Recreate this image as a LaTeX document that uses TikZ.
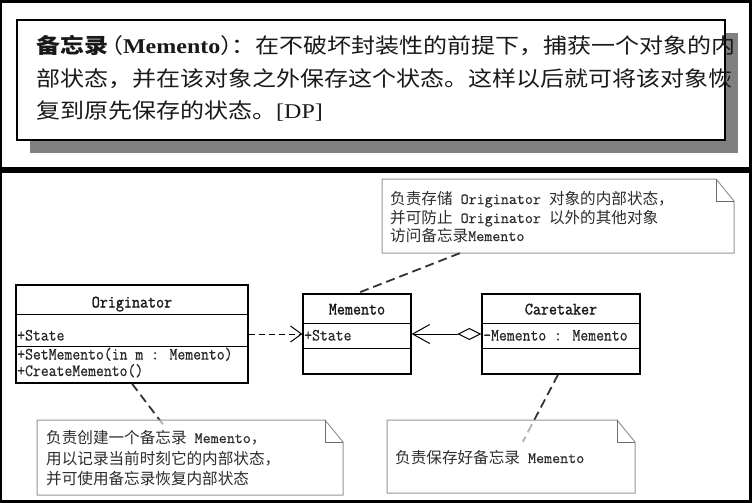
\documentclass[tikz,border=0pt]{standalone}
\usepackage{graphicx}
\usepackage{fontspec}
\setmainfont{Liberation Serif}
\newfontfamily\cjk{Noto Sans CJK SC}
\newfontfamily\namemono{Latin Modern Mono}[FakeBold=1.3]
\newfontfamily\attrmono{Latin Modern Mono}[FakeBold=0.5]
\usetikzlibrary{arrows.meta,calc}
\definecolor{shadowgray}{RGB}{128,128,128}
\definecolor{notegray}{RGB}{150,150,150}
\definecolor{notefold}{RGB}{110,110,110}
\definecolor{notetext}{RGB}{45,45,45}
\newcommand\tall[1]{\scalebox{1}[1.12]{#1}}
\newcommand\wide[1]{\scalebox{1.143}[1]{#1}}
\newcommand\lat[1]{{\attrmono #1}}
\tikzset{
  classbox/.style={draw=black, line width=1.3pt, fill=white, inner sep=0pt},
  cname/.style={font=\namemono\fontsize{15.6}{17}\selectfont, inner sep=0pt, anchor=base, text=black!90},
  attr/.style={font=\attrmono\fontsize{15.3}{17}\selectfont, inner sep=0pt, anchor=base west, text=black!85},
  notearea/.style={inner sep=0pt},
  notetxt/.style={font=\cjk\fontsize{15.6}{18}\selectfont, inner sep=0pt, anchor=base west, text=notetext},
  notelink/.style={draw=black!80, line width=1.8pt, dash pattern=on 9pt off 5pt},
  deftxt/.style={font=\cjk\fontsize{21}{23}\selectfont, inner sep=0pt, anchor=base west, text=black!90},
  deparrow/.style={line width=1pt, dash pattern=on 6pt off 4pt, -{Straight Barb[length=11pt,width=16pt]}},
  aggarrow/.style={line width=1pt, {Diamond[length=24pt,width=12pt,fill=white]}-{Straight Barb[length=17pt,width=19pt]}},
}
\newcommand\umlnote[4]{%
  \path[fill=white, fill opacity=0.62, draw=notegray, line width=1pt]
    (#1,#2) -- ({#3-18},#2) -- (#3,{#2+22}) -- (#3,#4) -- (#1,#4) -- cycle;
  \draw[notefold, line width=1pt] ({#3-18},#2) -- ({#3-18},{#2+22}) -- (#3,{#2+22});
}
\begin{document}
\begin{tikzpicture}[x=1pt,y=-1pt]
\useasboundingbox (0,0) rectangle (752,503);
% frame
\fill[black] (0,0) rectangle (752,503);
\fill[white] (2,3) rectangle (749,167);
\fill[white] (2,173) rectangle (749,500);
% definition box
\fill[shadowgray] (30,33) rectangle (738,153);
\node[draw=black, line width=1.3pt, fill=white, inner sep=0pt, minimum width=708pt, minimum height=120pt] (defbox) at (371,80) {};
\node[deftxt] (d1) at (36,54) {\wide{{\bfseries 备忘录}\hspace{4pt}\makebox[9pt][r]{（}{\rmfamily\bfseries Memento}\makebox[10pt][l]{）}：在不破坏封装性的前提下，捕获一个对象的内}};
\node[deftxt] (d2) at (36,86) {\wide{部状态，并在该对象之外保存这个状态。这样以后就可将该对象恢}};
\node[deftxt] (d3) at (36,118) {\wide{复到原先保存的状态。{\rmfamily [DP]}}};
% classes
\node[classbox, minimum width=232pt, minimum height=98pt] (orig) at (132,334) {};
\draw[line width=1.3pt] (orig.north west) ++(0,30) -- ++(232,0);
\draw[line width=1.3pt] (orig.north west) ++(0,62) -- ++(232,0);
\node[cname] (orign) at (132,307.5) {\tall{Originator}};
\node[attr] (origa) at (17,340.5) {\tall{+State}};
\node[attr] (origo1) at (17,359.5) {\tall{+SetMemento(in m : Memento)}};
\node[attr] (origo2) at (17,376) {\tall{+CreateMemento()}};

\node[classbox, minimum width=108pt, minimum height=80pt] (mem) at (357,334) {};
\draw[line width=1.3pt] (mem.north west) ++(0,30) -- ++(108,0);
\draw[line width=1.3pt] (mem.north west) ++(0,55) -- ++(108,0);
\node[cname] (memn) at (357,314.5) {\tall{Memento}};
\node[attr] (mema) at (304,340.5) {\tall{+State}};

\node[classbox, minimum width=158pt, minimum height=80pt] (care) at (561,334) {};
\draw[line width=1.3pt] (care.north west) ++(0,30) -- ++(158,0);
\draw[line width=1.3pt] (care.north west) ++(0,55) -- ++(158,0);
\node[cname] (caren) at (561,314.5) {\tall{Caretaker}};
\node[attr] (carea) at (483,340.5) {\tall{-Memento : Memento}};

% relations
\draw[deparrow] (orig.east) -- (mem.west);
\draw[aggarrow] (care.west) -- (mem.east);

% note areas
\node[notearea, minimum width=352pt, minimum height=74pt] (note1) at (558,216) {};
\node[notearea, minimum width=306pt, minimum height=75pt] (note2) at (190,457.5) {};
\node[notearea, minimum width=248pt, minimum height=73pt] (note3) at (511,456.5) {};
\coordinate (n1start) at ($(note1.south west)+(78,0)$);
\coordinate (n2end) at ($(note2.north west)+(128,7)$);
\coordinate (n3end) at ($(note3.north west)+(136,22)$);
\coordinate (c3start) at ($(care.south)+(-3,0)$);

\draw[notelink] (orig.south) -- (n2end);
\draw[notelink] (c3start) -- (n3end);

\umlnote{382}{179}{734}{253}
\umlnote{37}{420}{343}{495}
\umlnote{387}{420}{635}{493}

\draw[notelink] (n1start) -- (mem.north);

% note texts
\node[notetxt] (t11) at (390,204) {负责存储\lat{\ Originator\ }对象的内部状态，};
\node[notetxt] (t12) at (390,223) {并可防止\lat{\ Originator\ }以外的其他对象};
\node[notetxt] (t13) at (390,241) {访问备忘录\lat{Memento}};
\node[notetxt] (t21) at (46,443) {负责创建一个备忘录\lat{\ Memento}，};
\node[notetxt] (t22) at (46,464) {用以记录当前时刻它的内部状态，};
\node[notetxt] (t23) at (46,484) {并可使用备忘录恢复内部状态};
\node[notetxt] (t31) at (395,463) {负责保存好备忘录\lat{\ Memento}};
\end{tikzpicture}
\end{document}
